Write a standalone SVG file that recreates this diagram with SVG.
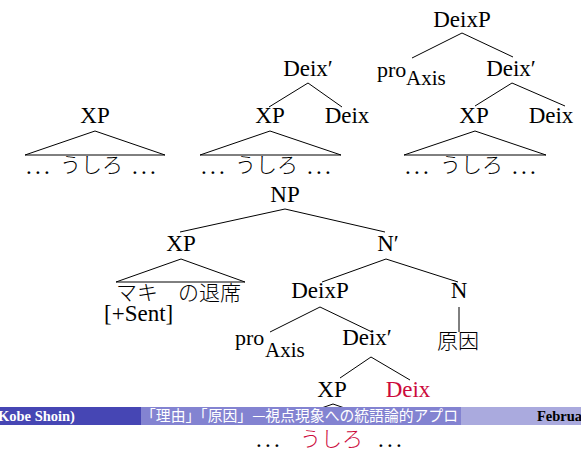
<svg xmlns="http://www.w3.org/2000/svg" width="581" height="453" viewBox="0 0 581 453">
<style>
.t{font-family:'Liberation Serif','Times New Roman',Times,'DejaVu Serif',serif;font-size:23px;fill:#000}
.m{text-anchor:middle}
.sub{font-size:21px}
.pro{font-size:22px}
.jp{font-family:'Noto Sans CJK JP',sans-serif;font-size:21px;font-weight:300;fill:#000}
.dots{font-family:'Liberation Serif','Times New Roman',serif;font-size:23px;letter-spacing:3.3px}
.red{fill:#cc0a3c}
.e line,.e polyline{stroke:#000;stroke-width:1;fill:none}
.base{stroke:#333;stroke-width:1.3}
.ft{font-family:'Liberation Serif','Times New Roman',serif;font-weight:bold;font-size:14.5px}
.fj{font-family:'Noto Sans CJK JP',sans-serif;font-size:15px;fill:#fff}
</style>

<g id="connectors" class="e">
  <line x1="462" y1="33" x2="412" y2="58"/>
  <line x1="462" y1="33" x2="513" y2="57"/>
  <line x1="512" y1="83" x2="475" y2="106"/>
  <line x1="512" y1="83" x2="565" y2="106"/>
  <line x1="308" y1="83" x2="269" y2="107"/>
  <line x1="308" y1="83" x2="342" y2="107"/>
  <line x1="285" y1="209" x2="180" y2="232"/>
  <line x1="285" y1="209" x2="385" y2="232"/>
  <line x1="386" y1="259" x2="322" y2="282"/>
  <line x1="386" y1="259" x2="458" y2="282"/>
  <line x1="320" y1="307" x2="270" y2="332"/>
  <line x1="320" y1="307" x2="372" y2="332"/>
  <line x1="459" y1="307" x2="459" y2="332"/>
  <line x1="371" y1="357" x2="340" y2="378"/>
  <line x1="371" y1="357" x2="410" y2="380"/>
  <polyline points="25,155 95,131 165,155"/>
  <polyline points="200,155 270,131 341,155"/>
  <polyline points="404,155 475,131 546,155"/>
  <polyline points="116,282 181,259 245,282"/>
  <polyline points="310,412 333,404 356,412"/>
  <line class="base" x1="25" y1="155" x2="165" y2="155"/>
  <line class="base" x1="200" y1="155" x2="341" y2="155"/>
  <line class="base" x1="404" y1="155" x2="546" y2="155"/>
  <line class="base" x1="116" y1="282" x2="245" y2="282"/>
</g>

<g id="t1-xp"><text class="t m" x="95" y="123">XP</text></g>
<g id="t1-leaf">
  <text class="dots" x="26" y="174">...</text>
  <text class="jp" x="60" y="172">うしろ</text>
  <text class="dots" x="132" y="174">...</text>
</g>

<g id="t2-deixbar"><text class="t m" x="308" y="76">Deix′</text></g>
<g id="t2-xp"><text class="t m" x="270" y="123">XP</text></g>
<g id="t2-deix"><text class="t m" x="347" y="123">Deix</text></g>
<g id="t2-leaf">
  <text class="dots" x="201" y="174">...</text>
  <text class="jp" x="235" y="172">うしろ</text>
  <text class="dots" x="307" y="174">...</text>
</g>

<g id="t3-deixp"><text class="t m" x="462" y="27">DeixP</text></g>
<g id="t3-pro"><text class="t pro" x="377" y="77">pro</text><text class="t sub" x="406" y="85">Axis</text></g>
<g id="t3-deixbar"><text class="t m" x="511" y="76">Deix′</text></g>
<g id="t3-xp"><text class="t m" x="474" y="123">XP</text></g>
<g id="t3-deix"><text class="t m" x="551" y="123">Deix</text></g>
<g id="t3-leaf">
  <text class="dots" x="405" y="174">...</text>
  <text class="jp" x="440" y="172">うしろ</text>
  <text class="dots" x="512" y="174">...</text>
</g>

<g id="np"><text class="t m" x="285" y="202">NP</text></g>
<g id="xp"><text class="t m" x="181" y="251">XP</text></g>
<g id="xp-leaf">
  <text class="jp" x="116" y="300">マキ</text>
  <text class="jp" x="178" y="300">の退席</text>
  <text class="t" x="104" y="321">[+Sent]</text>
</g>
<g id="nbar"><text class="t m" x="388" y="251">N′</text></g>
<g id="deixp"><text class="t m" x="320" y="298">DeixP</text></g>
<g id="n"><text class="t m" x="459" y="298">N</text></g>
<g id="gen"><text class="jp" x="437" y="348">原因</text></g>
<g id="pro"><text class="t pro" x="235" y="345">pro</text><text class="t sub" x="265" y="357">Axis</text></g>
<g id="deixbar"><text class="t m" x="367" y="345">Deix′</text></g>
<g id="xp2"><text class="t m" x="332" y="397">XP</text></g>
<g id="deix-red"><text class="t m red" x="408" y="397">Deix</text></g>

<g id="footer">
  <rect x="0" y="407" width="141" height="18" fill="#4646b4"/>
  <rect x="141" y="407" width="320" height="18" fill="#8383d1"/>
  <rect x="461" y="407" width="120" height="18" fill="#aaaade"/>
  <text class="ft" x="-2" y="421" fill="#fff">Kobe Shoin)</text>
  <text class="fj" x="141" y="421" textLength="317" lengthAdjust="spacingAndGlyphs">「理由」「原因」—視点現象への統語論的アプロ</text>
  <text class="ft" x="537" y="421" fill="#000">Februa</text>
</g>

<g id="bottom-leaf">
  <text class="dots" x="256" y="447">...</text>
  <text class="jp red" x="300" y="446">うしろ</text>
  <text class="dots" x="378" y="447">...</text>
</g>
</svg>
